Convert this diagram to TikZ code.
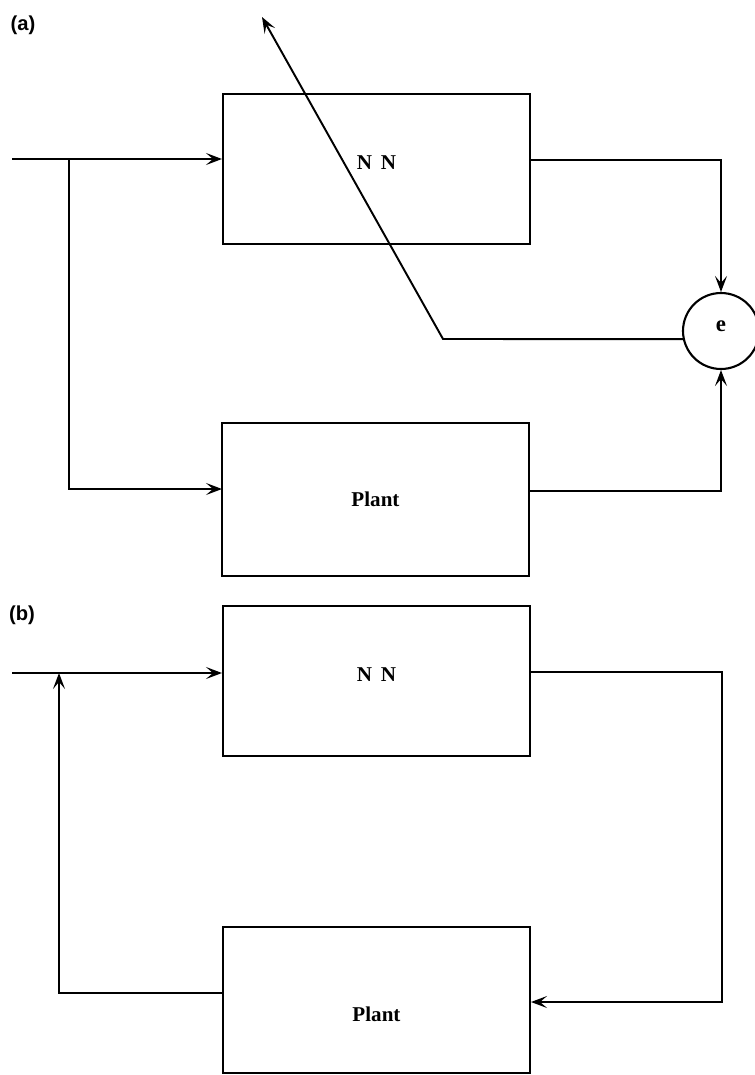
\documentclass[tikz,border=0pt]{standalone}
\usepackage{fontspec}
\setmainfont{Liberation Serif}
\setsansfont{Liberation Sans}
\usepackage{tikz}
\usetikzlibrary{arrows.meta,positioning,calc}

\begin{document}
\begin{tikzpicture}[
    x=0.02cm, y=-0.02cm,
    block/.style={rectangle, draw, line width=1.2pt, minimum width=6.14cm, minimum height=3cm, align=center, font=\fontsize{12}{14}\selectfont\bfseries},
    sumnode/.style={circle, draw, line width=1.2pt, minimum size=1.52cm, inner sep=0pt, font=\fontsize{13}{15}\selectfont\bfseries},
    tag/.style={font=\sffamily\bfseries\fontsize{11.5}{13}\selectfont},
    arr/.style={-{Stealth[length=3.2mm, width=2.4mm, inset=1.4mm]}, line width=1.1pt},
]
    \useasboundingbox (0,0) rectangle (754,1075);

    % (a) identification
    \node[tag] (tagA) at (23,25) {(a)};
    \node[block] (nnA) at (376.5,169) {\raisebox{7pt}{N\hspace{5pt}N}};
    \node[block, minimum height=3.06cm] (plantA) at (375.5,499.5) {Plant};
    \node[sumnode] (sumE) at (721,331) {\raisebox{5pt}{e}};

    \coordinate (inA) at (12,159);
    \coordinate (brA) at (69,159);
    \coordinate (pinA) at (222,489);
    \coordinate (outA) at (530,160);
    \coordinate (poutA) at (529,491);
    \coordinate (fbA) at (443,339);
    \coordinate (tipA) at (262,17);

    \draw[arr] (inA) -- (nnA.west |- inA);
    \draw[arr] (brA) |- (pinA);
    \draw[arr] (outA) -| (sumE.north);
    \draw[arr] (poutA) -| (sumE.south);
    \draw[arr] (sumE.192) -- (fbA) -- (tipA);

    % (b) control loop
    \node[tag] (tagB) at (22,615) {(b)};
    \node[block] (nnB) at (376.5,681) {\raisebox{7pt}{N\hspace{5pt}N}};
    \node[block, minimum height=2.92cm] (plantB) at (376.5,1000) {\raisebox{-8pt}[8pt][0pt]{Plant}};

    \coordinate (inB) at (12,673);
    \coordinate (outB) at (531,672);
    \coordinate (turnB) at (722,1002);
    \coordinate (poutB) at (222,993);
    \coordinate (jB) at (59,673);

    \draw[arr] (inB) -- (nnB.west |- inB);
    \draw[arr] (outB) -| (turnB) -- (plantB.east |- turnB);
    \draw[arr] (poutB) -| (jB);
\end{tikzpicture}
\end{document}
